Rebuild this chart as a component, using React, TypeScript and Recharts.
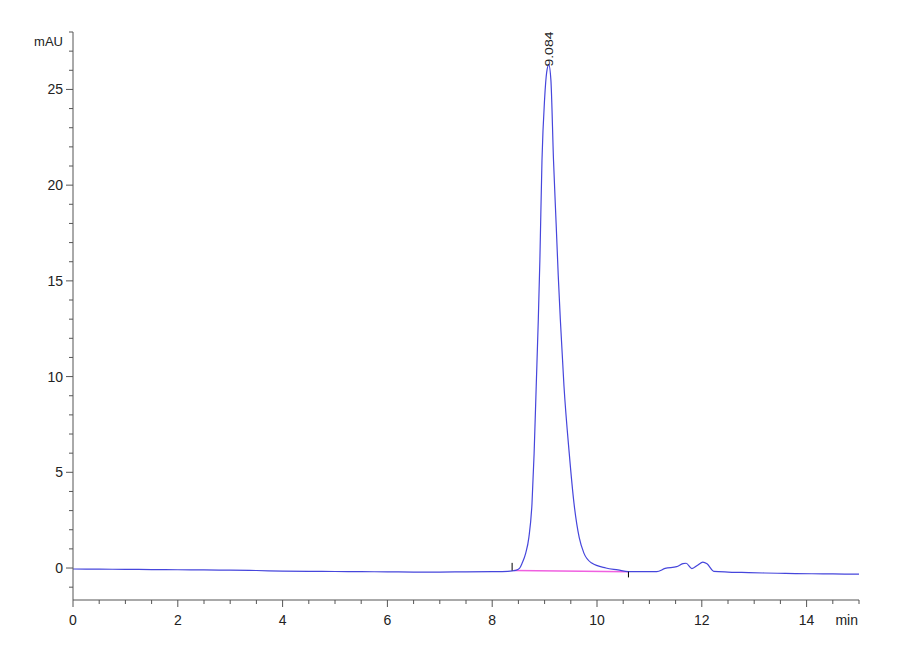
import React from 'react';
import { LineChart, Line, XAxis, YAxis, ReferenceLine, ReferenceDot } from 'recharts';

// Retention time (min) and detector signal (mAU)
const times = [
  0, 0.5, 1, 1.5, 2, 2.5, 3, 3.5, 4, 4.5, 5, 5.5, 6, 6.5, 7, 7.5, 8, 8.3, 8.45, 8.52,
  8.57, 8.64, 8.7, 8.76, 8.8, 8.84, 8.88, 8.91, 8.95, 9.0, 9.04, 9.08, 9.12, 9.17, 9.22,
  9.26, 9.3, 9.37, 9.47, 9.56, 9.66, 9.75, 9.9, 10.17, 10.4, 10.6, 11.0, 11.14, 11.3,
  11.52, 11.64, 11.7, 11.81, 11.92, 12.02, 12.1, 12.23, 12.5, 12.76, 13.2, 13.6, 14.1,
  14.5, 15,
];
const absorbance = [
  -0.05, -0.06, -0.07, -0.08, -0.09, -0.1, -0.11, -0.13, -0.16, -0.17, -0.18, -0.19, -0.2,
  -0.21, -0.21, -0.2, -0.19, -0.17, -0.12, -0.02, 0.25, 0.78, 1.6, 3.4, 6.0, 9.5, 13.0,
  16.1, 21.3, 24.5, 25.9, 26.3, 25.5, 21.3, 18.0, 15.3, 13.0, 9.5, 6.0, 3.4, 1.6, 0.78,
  0.26, 0.0, -0.1, -0.19, -0.19, -0.19, -0.02, 0.07, 0.23, 0.25, -0.03, 0.15, 0.31, 0.22,
  -0.17, -0.21, -0.23, -0.26, -0.28, -0.3, -0.31, -0.32,
];

// Integration baseline drawn under the main peak
const baselineTimes = [8.42, 10.6];
const baselineValues = [-0.13, -0.19];

// Peak annotation
const peakTime = 9.084;
const peakHeight = 26.3;
const peakLabel = '9.084';

// Axis ticks
const xTicks = [
  0, 0.5, 1, 1.5, 2, 2.5, 3, 3.5, 4, 4.5, 5, 5.5, 6, 6.5, 7, 7.5, 8, 8.5, 9, 9.5, 10, 10.5,
  11, 11.5, 12, 12.5, 13, 13.5, 14, 14.5, 15,
];
const xLabels = [0, 2, 4, 6, 8, 10, 12, 14];
const yTicks = [-1, 0, 1, 2, 3, 4, 5, 6, 7, 8, 9, 10, 11, 12, 13, 14, 15, 16, 17, 18, 19, 20, 21, 22, 23, 24, 25, 26, 27, 28];
const yLabels = [0, 5, 10, 15, 20, 25];
const xUnit = 'min';
const yUnit = 'mAU';

const AXIS = '#555';
const TEXT = '#222';
const FONT = '"Liberation Sans Narrow", "Liberation Sans", Arial, sans-serif';

const chartData = times.map((t, i) => ({ t, v: absorbance[i] }));
const baselineData = baselineTimes.map((t, i) => ({ t, v: baselineValues[i] }));

function XTick({ x, y, payload }: any) {
  const v = payload.value;
  const major = xLabels.includes(v);
  const last = v === xTicks[xTicks.length - 1];
  return (
    <g>
      <line x1={x} x2={x} y1={y} y2={y + (major ? 7 : 4)} stroke={AXIS} />
      {major && (
        <text x={x} y={y + 25} textAnchor="middle" fontSize={14} fill={TEXT} fontFamily={FONT}>
          {v}
        </text>
      )}
      {last && (
        <text x={x - 1} y={y + 25} textAnchor="end" fontSize={14} fill={TEXT} fontFamily={FONT}>
          {xUnit}
        </text>
      )}
    </g>
  );
}

function YTick({ x, y, payload }: any) {
  const v = payload.value;
  const major = yLabels.includes(v);
  const last = v === yTicks[yTicks.length - 1];
  return (
    <g>
      <line x1={x - (major ? 7 : 4)} x2={x} y1={y} y2={y} stroke={AXIS} />
      {major && (
        <text x={x - 10} y={y + 5} textAnchor="end" fontSize={14} fill={TEXT} fontFamily={FONT}>
          {v}
        </text>
      )}
      {last && (
        <text x={x - 10} y={y + 14} textAnchor="end" fontSize={13} fill={TEXT} fontFamily={FONT}>
          {yUnit}
        </text>
      )}
    </g>
  );
}

function PeakLabel({ cx, cy }: any) {
  return (
    <text
      transform={`translate(${cx},${cy + 2}) rotate(-90) scale(1,0.8)`}
      dy="0.35em"
      fontSize={14}
      fill={TEXT}
      fontFamily='"Liberation Sans", Arial, sans-serif'
    >
      {peakLabel}
    </text>
  );
}

export default function App() {
  return (
    <div style={{ position: 'absolute', left: 0, top: 0, background: '#fff' }}>
      <LineChart
        width={900}
        height={660}
        data={chartData}
        margin={{ top: 32, right: 41, left: 0, bottom: 30 }}
      >
        <XAxis
          dataKey="t"
          type="number"
          domain={[0, 15]}
          ticks={xTicks}
          interval={0}
          allowDataOverflow
          height={30}
          tickSize={0}
          tickMargin={0}
          tickLine={false}
          axisLine={{ stroke: AXIS }}
          tick={<XTick />}
        />
        <YAxis
          type="number"
          domain={[-1.67, 28]}
          ticks={yTicks}
          interval={0}
          allowDataOverflow
          width={73}
          tickSize={0}
          tickMargin={0}
          tickLine={false}
          axisLine={{ stroke: AXIS }}
          tick={<YTick />}
        />
        <Line
          data={baselineData}
          dataKey="v"
          type="linear"
          stroke="#f060e0"
          strokeWidth={1.5}
          dot={false}
          isAnimationActive={false}
        />
        <Line
          dataKey="v"
          type="monotone"
          stroke="#4646dc"
          strokeWidth={1.2}
          dot={false}
          isAnimationActive={false}
        />
        <ReferenceLine
          segment={[
            { x: baselineTimes[0] - 0.04, y: baselineValues[0] },
            { x: baselineTimes[0] - 0.04, y: baselineValues[0] + 0.4 },
          ]}
          stroke="#000"
          ifOverflow="visible"
        />
        <ReferenceLine
          segment={[
            { x: baselineTimes[1], y: baselineValues[1] },
            { x: baselineTimes[1], y: baselineValues[1] - 0.3 },
          ]}
          stroke="#000"
          ifOverflow="visible"
        />
        <ReferenceDot
          x={peakTime}
          y={peakHeight}
          r={0}
          ifOverflow="visible"
          shape={<PeakLabel />}
        />
      </LineChart>
    </div>
  );
}
